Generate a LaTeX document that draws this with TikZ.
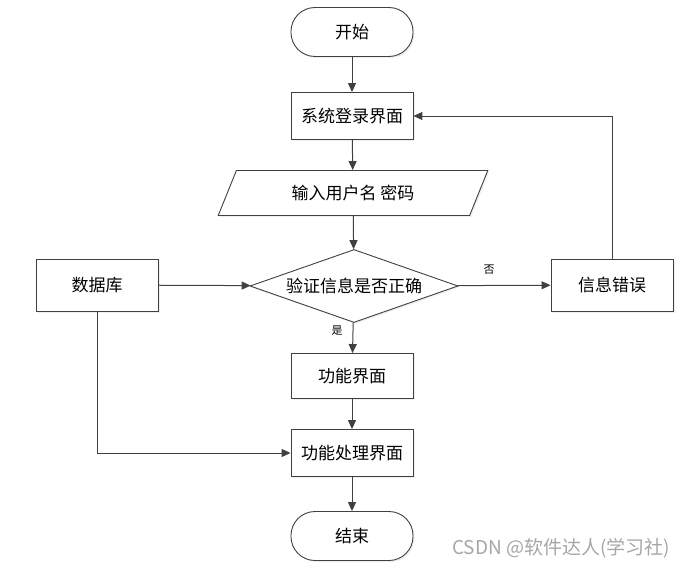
\documentclass[tikz,border=0pt]{standalone}
\usepackage{fontspec}
\newfontfamily\cjk{Noto Sans CJK SC}
\usetikzlibrary{arrows.meta, shapes.geometric, shadows}

\tikzset{
  base/.style={draw=black!75, fill=white, line width=0.9pt, inner sep=0pt,
    font=\cjk\fontsize{17}{17}\selectfont,
    drop shadow={shadow xshift=1.5pt, shadow yshift=-1.5pt, fill=black!12}},
  terminal/.style={base, rectangle, rounded corners=24pt, minimum width=122pt, minimum height=49pt},
  process/.style={base, rectangle, minimum width=122pt, minimum height=47pt},
  iobox/.style={base, trapezium, trapezium left angle=59, trapezium right angle=121,
    trapezium stretches=true, minimum width=270pt, minimum height=45pt},
  decision/.style={base, diamond, shape aspect=2.85, minimum width=208pt, minimum height=73pt},
  flow/.style={draw=black!75, line width=1pt, -{Triangle[length=9pt, width=8pt]}},
  tag/.style={font=\cjk\fontsize{11}{11}\selectfont, inner sep=0pt}
}

\begin{document}
\begin{tikzpicture}[x=1pt, y=-1pt]
  \useasboundingbox (0,0) rectangle (687,567);

  \node[terminal] (start) at (352,32) {开始};
  \node[process] (login) at (352,116) {系统登录界面};
  \node[iobox] (input) at (353,193) {输入用户名 密码};
  \node[decision] (check) at (354,286) {验证信息是否正确};
  \node[process, minimum height=52pt] (db) at (97,285) {数据库};
  \node[process, minimum height=52pt] (err) at (612,285) {信息错误};
  \node[process, minimum height=45pt] (func) at (352,376) {功能界面};
  \node[process] (proc) at (352,453) {功能处理界面};
  \node[terminal] (stop) at (352,536) {结束};

  \draw[flow] (start) -- (login);
  \draw[flow] (login) -- (input);
  \draw[flow] (input) -- (check);
  \draw[flow] (db) -- (check);
  \draw[flow] (check) -- (err);
  \draw[flow] (err.north) |- (login.east);
  \draw[flow] (check) -- (func);
  \draw[flow] (func) -- (proc);
  \draw[flow] (db.south) |- (proc.west);
  \draw[flow] (proc) -- (stop);

  \node[tag] (no) at (489,270) {否};
  \node[tag] (yes) at (337,331) {是};

  \node[font=\cjk\fontsize{19}{19}\selectfont, text=black!35, inner sep=0pt] (mark) at (561,548) {CSDN @软件达人(学习社)};
\end{tikzpicture}
\end{document}
